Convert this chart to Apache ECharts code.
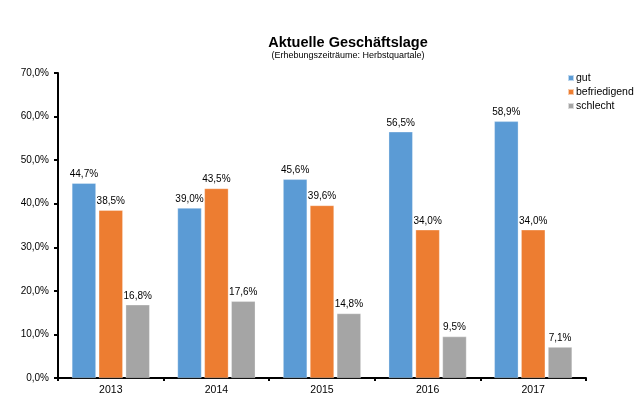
<!DOCTYPE html>
<html><head><meta charset="utf-8">
<script src="https://cdn.jsdelivr.net/npm/echarts@6/dist/echarts.min.js"></script>
<style>html,body{margin:0;padding:0;background:#fff}#c{width:640px;height:416px}</style>
</head><body><div id="c"></div>
<script>
const categories = ['2013','2014','2015','2016','2017'];
const gut = [44.7, 39.0, 45.6, 56.5, 58.9];
const befriedigend = [38.5, 43.5, 39.6, 34.0, 34.0];
const schlecht = [16.8, 17.6, 14.8, 9.5, 7.1];
const seriesNames = ['gut','befriedigend','schlecht'];
const colors = ['#5B9BD5','#ED7D31','#A5A5A5'];
const FONT = '"Liberation Sans", Arial, Helvetica, sans-serif';
const fmt = v => v.toFixed(1).replace('.', ',') + '%';
const chart = echarts.init(document.getElementById('c'));
const mk = (name, data, i) => ({
  name, type: 'bar', data, barWidth: 24, barGap: '12%',
  itemStyle: { color: colors[i], borderColor: 'rgba(255,255,255,0.6)', borderWidth: 0.5 },
  label: { show: true, position: 'top', distance: 4, color: '#000', fontSize: 10, fontFamily: FONT,
    formatter: p => fmt(p.value) }
});
chart.setOption({
  animation: false,
  title: {
    text: 'Aktuelle Geschäftslage',
    subtext: '(Erhebungszeiträume: Herbstquartale)',
    left: 343, textAlign: 'center', top: 30, itemGap: 1,
    textStyle: { fontFamily: FONT, fontSize: 14.5, fontWeight: 'bold', color: '#000' },
    subtextStyle: { fontFamily: FONT, fontSize: 9, color: '#000' }
  },
  legend: {
    orient: 'vertical', left: 562, top: 67, itemWidth: 6, itemHeight: 6, itemGap: 2,
    icon: 'rect', data: seriesNames,
    textStyle: { fontFamily: FONT, fontSize: 10.5, lineHeight: 12, color: '#000', padding: [0,0,0,-3] }
  },
  grid: { left: 58, right: 54, top: 73, bottom: 38, containLabel: false },
  xAxis: {
    type: 'category', data: categories,
    axisLine: { lineStyle: { color: '#000', width: 2 } },
    axisTick: { show: true, length: 3, lineStyle: { color: '#000', width: 2 } },
    axisLabel: { fontFamily: FONT, fontSize: 10.5, color: '#000', margin: 7 }
  },
  yAxis: {
    type: 'value', min: 0, max: 70, interval: 10,
    axisLine: { show: true, lineStyle: { color: '#000', width: 2 } },
    axisTick: { show: true, length: 4, lineStyle: { color: '#000', width: 2 } },
    splitLine: { show: false },
    axisLabel: { fontFamily: FONT, fontSize: 10, color: '#000', margin: 9, formatter: v => fmt(v) }
  },
  series: [mk('gut', gut, 0), mk('befriedigend', befriedigend, 1), mk('schlecht', schlecht, 2)]
});
</script></body></html>
